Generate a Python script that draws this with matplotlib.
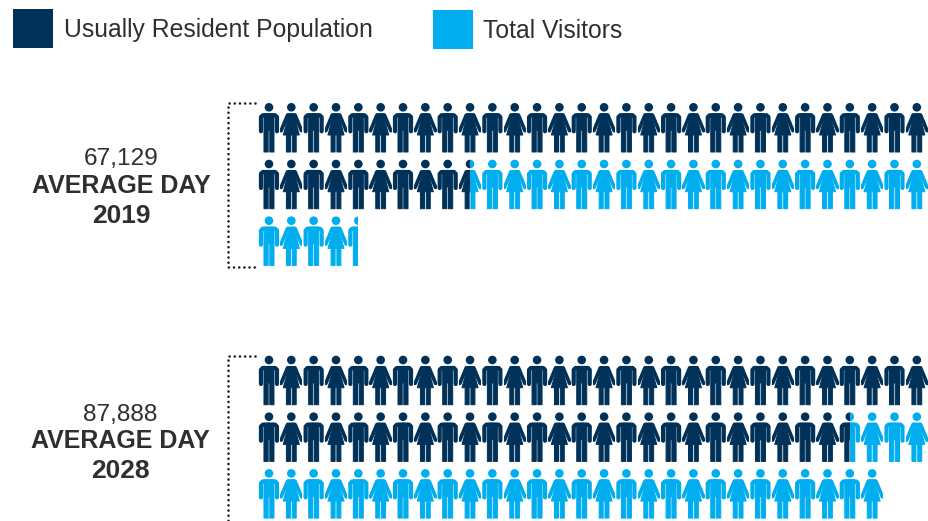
import matplotlib
matplotlib.use("Agg")
import matplotlib.pyplot as plt
from matplotlib.lines import Line2D
from matplotlib.patches import Circle, Polygon, Rectangle

plt.rcParams["font.family"] = ["Liberation Sans", "DejaVu Sans"]

# Population shown in icons: one row holds thirty people
series_names = ["Usually Resident Population", "Total Visitors"]
totals = ["67,129", "87,888"]
years = ["2019", "2028"]
resident_icons = [39.5, 56.5]
visitor_icons = [25.0, 31.5]

NAVY = "#003159"
CYAN = "#00AEEF"
TEXT = "#2f2f2f"
ICONS_PER_ROW = 30
CELL_W = 22.34
ROW_H = 56.7
LEFT = 257.8
ROW_TOPS = [107.3, 360.0]
LABEL_BASELINES = [(164.5, 193, 223), (420.5, 448.5, 478.5)]
LABEL_XS = [121, 120]
BRACKET_TOPS = [102.8, 356.2]
BRACKET_BOTTOMS = [266.5, 524]
PX = 0.72  # points per pixel at 100 dpi

# Right-hand outlines of the two figures, relative to the head centre
MAN_HALF = [(0, 6.5), (5.0, 6.5), (5.0, 44.7), (0.8, 44.7), (0.8, 23), (0, 23)]
WOMAN_HALF = [(0, 6.5), (3.8, 6.5), (3.8, 12), (8.0, 27.7), (4.9, 27.7), (4.9, 44.7),
              (0.9, 44.7), (0.9, 27.7), (0, 27.7)]
# Arm centre lines (right side) and their stroke widths
MAN_ARM = [(0, 8), (6.2, 8), (8.0, 9.8), (8.0, 24)]
WOMAN_ARM = [(0, 7.9), (3.8, 7.9), (10.2, 23.4)]
MAN_ARM_W = 4.2
WOMAN_ARM_W = 3.7


def outline(half, cx, cy):
    right = [(cx + x, cy + y) for x, y in half]
    left = [(cx - x, cy + y) for x, y in reversed(half)]
    return right + left


def draw_person(ax, cx, cy, is_man, color, x0, x1):
    """Draw one figure, showing only the part between x0 and x1."""
    clip = Rectangle((x0, cy - 10), x1 - x0, 60, transform=ax.transData)
    head = Circle((cx, cy), 4.3, facecolor=color, edgecolor="none")
    body = Polygon(outline(MAN_HALF if is_man else WOMAN_HALF, cx, cy), closed=True,
                   facecolor=color, edgecolor=color, linewidth=PX, joinstyle="round")
    parts = [ax.add_patch(head), ax.add_patch(body)]
    arm = MAN_ARM if is_man else WOMAN_ARM
    width = MAN_ARM_W if is_man else WOMAN_ARM_W
    for side in (1, -1):
        stroke = Line2D([cx + side * x for x, _ in arm], [cy + y for _, y in arm], color=color,
                        linewidth=width * PX, solid_capstyle="round", solid_joinstyle="round")
        parts.append(ax.add_line(stroke))
    for part in parts:
        part.set_snap(False)
        part.set_clip_path(clip)


def draw_block(ax, top, dark, light):
    end = dark + light
    n = int(end) + (end % 1 > 0)
    for i in range(n):
        row, col = divmod(i, ICONS_PER_ROW)
        cx = LEFT + (col + 0.5) * CELL_W
        cy = top + row * ROW_H
        x0 = cx - CELL_W / 2
        is_man = col % 2 == 0
        # Portion of this icon that belongs to each group
        dark_end = min(max(dark - i, 0), 1)
        light_end = min(max(end - i, 0), 1)
        if dark_end > 0:
            draw_person(ax, cx, cy, is_man, NAVY, x0, x0 + dark_end * CELL_W)
        if light_end > dark_end:
            draw_person(ax, cx, cy, is_man, CYAN, x0 + dark_end * CELL_W, x0 + light_end * CELL_W)


fig = plt.figure(figsize=(9.29, 5.21), dpi=100)
ax = fig.add_axes([0, 0, 1, 1])
ax.set_xlim(0, 929)
ax.set_ylim(521, 0)
ax.axis("off")

# Legend
ax.add_patch(Rectangle((13, 9), 40, 39, facecolor=NAVY, edgecolor="none"))
ax.add_patch(Rectangle((433, 10), 40, 39, facecolor=CYAN, edgecolor="none"))
ax.text(64, 29.5, series_names[0], fontsize=17.8, color=TEXT, va="center", ha="left")
ax.text(483, 31, series_names[1], fontsize=17.8, color=TEXT, va="center", ha="left")

for k in range(2):
    draw_block(ax, ROW_TOPS[k], resident_icons[k], visitor_icons[k])
    # Dotted bracket tying the label to its block
    ax.plot([255, 228, 228, 255], [BRACKET_TOPS[k], BRACKET_TOPS[k], BRACKET_BOTTOMS[k], BRACKET_BOTTOMS[k]],
            color="#1e1e1e", lw=1.9, linestyle=(0, (0.01, 1.95)), dash_capstyle="round")
    lx = LABEL_XS[k]
    ys = LABEL_BASELINES[k]
    ax.text(lx, ys[0], totals[k], fontsize=17.6, color=TEXT, ha="center", va="baseline")
    ax.text(lx, ys[1], "AVERAGE DAY", fontsize=18, color=TEXT, ha="center", va="baseline", fontweight="bold")
    ax.text(lx, ys[2], years[k], fontsize=19, color=TEXT, ha="center", va="baseline", fontweight="bold")

fig.savefig("out.png", dpi=100)
